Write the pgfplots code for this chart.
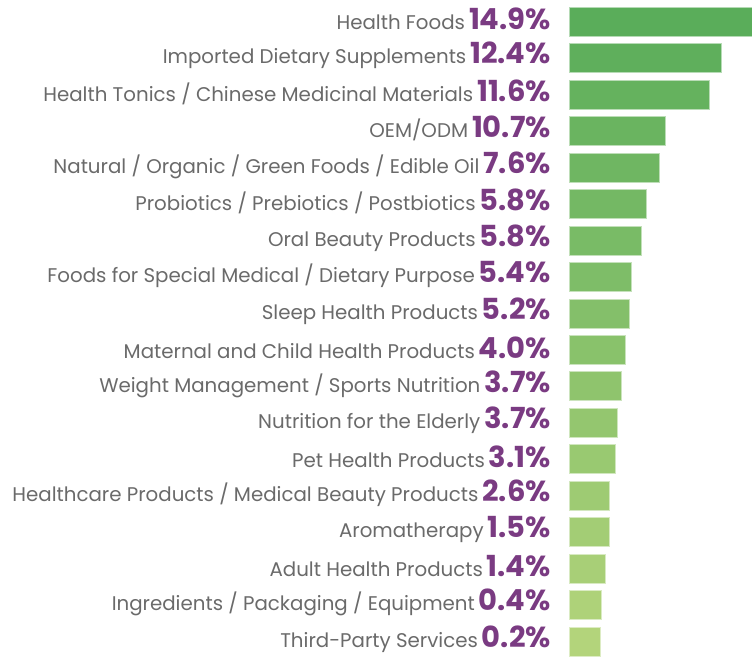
\documentclass[border=0pt]{standalone}
\usepackage{pgfplots}
\pgfplotsset{compat=1.18}
\usepackage{fontspec}
\setmainfont{Poppins}
\definecolor{gA}{HTML}{5AAD5A}
\definecolor{gB}{HTML}{B3D47B}
\definecolor{lab}{HTML}{6A6A6A}
\definecolor{pct}{HTML}{7A3B82}
\newcommand{\pc}[1]{\hspace{0.2em}{\color{pct}\fontsize{29}{29}\selectfont\bfseries #1}}
\begin{document}
\begin{tikzpicture}
\useasboundingbox (0,0) rectangle (752pt,657pt);
\begin{axis}[
  at={(569pt,-3.05pt)}, anchor=south west,
  scale only axis, width=183pt, height=656.8pt,
  xmin=0, xmax=183, ymin=-0.5, ymax=17.5,
  y dir=reverse, enlargelimits=false,
  axis line style={draw=none},
  major tick length=0pt,
  xtick=\empty,
  ytick={0,...,17},
  yticklabels={
    Health Foods\pc{14.9\%},
    Imported Dietary Supplements\pc{12.4\%},
    Health Tonics / Chinese Medicinal Materials\pc{11.6\%},
    OEM/ODM\pc{10.7\%},
    Natural / Organic / Green Foods / Edible Oil\pc{7.6\%},
    Probiotics / Prebiotics / Postbiotics\pc{5.8\%},
    Oral Beauty Products\pc{5.8\%},
    Foods for Special Medical / Dietary Purpose\pc{5.4\%},
    Sleep Health Products\pc{5.2\%},
    Maternal and Child Health Products\pc{4.0\%},
    Weight Management / Sports Nutrition\pc{3.7\%},
    Nutrition for the Elderly\pc{3.7\%},
    Pet Health Products\pc{3.1\%},
    Healthcare Products / Medical Beauty Products\pc{2.6\%},
    Aromatherapy\pc{1.5\%},
    Adult Health Products\pc{1.4\%},
    Ingredients / Packaging / Equipment\pc{0.4\%},
    Third-Party Services\pc{0.2\%}},
  yticklabel style={font=\fontsize{19.8}{19.8}\selectfont\color{lab}, anchor=east, xshift=-18pt, yshift=2.5pt, inner sep=0pt},
  xbar, bar width=29pt, bar shift=0pt,
]
\addplot[fill=gA!100!gB, draw=gA!100!gB!45!white, line width=0.8pt] coordinates {(183,0)};
\addplot[fill=gA!94!gB, draw=gA!94!gB!45!white, line width=0.8pt] coordinates {(152.7,1)};
\addplot[fill=gA!88!gB, draw=gA!88!gB!45!white, line width=0.8pt] coordinates {(140.7,2)};
\addplot[fill=gA!82!gB, draw=gA!82!gB!45!white, line width=0.8pt] coordinates {(96.7,3)};
\addplot[fill=gA!76!gB, draw=gA!76!gB!45!white, line width=0.8pt] coordinates {(90.3,4)};
\addplot[fill=gA!71!gB, draw=gA!71!gB!45!white, line width=0.8pt] coordinates {(77,5)};
\addplot[fill=gA!65!gB, draw=gA!65!gB!45!white, line width=0.8pt] coordinates {(72,6)};
\addplot[fill=gA!59!gB, draw=gA!59!gB!45!white, line width=0.8pt] coordinates {(62.7,7)};
\addplot[fill=gA!53!gB, draw=gA!53!gB!45!white, line width=0.8pt] coordinates {(60.3,8)};
\addplot[fill=gA!47!gB, draw=gA!47!gB!45!white, line width=0.8pt] coordinates {(56.7,9)};
\addplot[fill=gA!41!gB, draw=gA!41!gB!45!white, line width=0.8pt] coordinates {(52.7,10)};
\addplot[fill=gA!35!gB, draw=gA!35!gB!45!white, line width=0.8pt] coordinates {(48.7,11)};
\addplot[fill=gA!29!gB, draw=gA!29!gB!45!white, line width=0.8pt] coordinates {(46,12)};
\addplot[fill=gA!24!gB, draw=gA!24!gB!45!white, line width=0.8pt] coordinates {(40.7,13)};
\addplot[fill=gA!18!gB, draw=gA!18!gB!45!white, line width=0.8pt] coordinates {(40.7,14)};
\addplot[fill=gA!12!gB, draw=gA!12!gB!45!white, line width=0.8pt] coordinates {(36.7,15)};
\addplot[fill=gA!6!gB, draw=gA!6!gB!45!white, line width=0.8pt] coordinates {(32.7,16)};
\addplot[fill=gA!0!gB, draw=gA!0!gB!45!white, line width=0.8pt] coordinates {(31.3,17)};
\end{axis}
\end{tikzpicture}
\end{document}
